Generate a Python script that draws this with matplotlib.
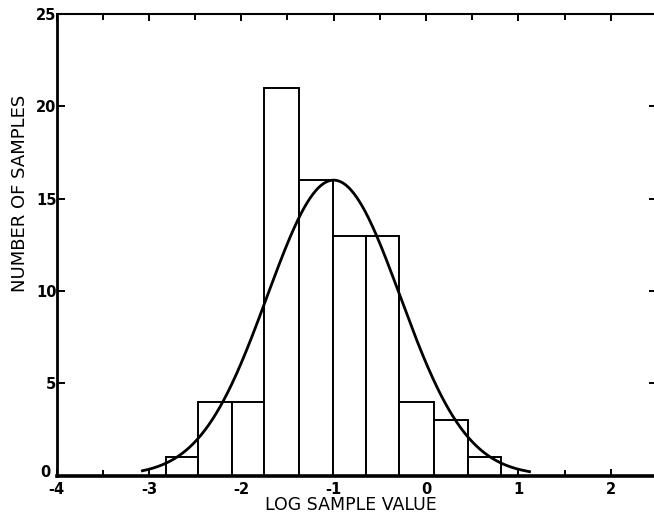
import numpy as np
import matplotlib
matplotlib.use("Agg")
import matplotlib.pyplot as plt
import matplotlib.transforms as mtransforms

# ---- data ----
bin_edges = [-2.82, -2.47, -2.10, -1.75, -1.37, -1.01, -0.65, -0.29, 0.09, 0.45, 0.81]
counts = [1, 4, 4, 21, 16, 13, 13, 4, 3, 1]

# fitted normal curve parameters
curve_mean = -1.0
curve_sd = 0.72
curve_peak = 16.0
curve_start = -3.07
curve_end = 1.12

x_major_ticks = [-4, -3, -2, -1, 0, 1, 2]
x_tick_labels = ["-4", "-3", "-2", "-1", "0", "1", "2"]
x_minor_ticks = [-3.5, -2.5, -1.5, -0.5, 0.5, 1.5]
y_ticks = [0, 5, 10, 15, 20, 25]
y_tick_labels = ["0", "5", "10", "15", "20", "25"]

W, H = 654, 513
fig = plt.figure(figsize=(W / 100, H / 100), dpi=100)
left_px, right_px, top_px, bottom_px = 56.5, 657, 14, 475.5
ax = fig.add_axes([left_px / W, 1 - bottom_px / H,
                   (right_px - left_px) / W, (bottom_px - top_px) / H])

ax.set_xlim(-4, 2.5)
ax.set_ylim(0, 25)

widths = np.diff(bin_edges)
ax.bar(bin_edges[:-1], counts, width=widths, align="edge",
       facecolor="white", edgecolor="black", linewidth=1.4, zorder=2)

xc = np.linspace(curve_start, curve_end, 400)
yc = curve_peak * np.exp(-0.5 * ((xc - curve_mean) / curve_sd) ** 2)
ax.plot(xc, yc, color="black", linewidth=2.0, zorder=3)

for side, lw in (("left", 2.0), ("bottom", 2.6), ("top", 1.5), ("right", 1.5)):
    ax.spines[side].set_linewidth(lw)
    ax.spines[side].set_color("black")

ax.set_xticks(x_major_ticks)
ax.set_xticklabels(x_tick_labels)
ax.set_xticks(x_minor_ticks, minor=True)
ax.set_yticks(y_ticks)
ax.set_yticklabels(y_tick_labels)

ax.tick_params(axis="x", which="both", direction="in", top=True, bottom=True,
               width=1.4, color="black")
ax.tick_params(axis="x", which="major", length=5, pad=5)
ax.tick_params(axis="x", which="minor", length=4)
ax.tick_params(axis="y", which="major", direction="in", left=True, right=True,
               length=6, width=1.4, pad=0, color="black")

for lab in ax.get_xticklabels() + ax.get_yticklabels():
    lab.set_fontweight("bold")
    lab.set_fontsize(10.5)
    lab.set_family("DejaVu Sans")

# nudge the bottom y label ("0") up and left so it clears the "-4" below it
zero_lab = ax.get_yticklabels()[0]
zero_lab.set_transform(zero_lab.get_transform() +
                       mtransforms.ScaledTranslation(-4 / 72, 3 / 72, fig.dpi_scale_trans))

fig.text(351 / W, 1 - 505 / H, "LOG SAMPLE VALUE", ha="center", va="center",
         fontsize=12.5, family="DejaVu Sans")
fig.text(20 / W, 1 - 193 / H, "NUMBER OF SAMPLES", ha="center", va="center",
         rotation=90, fontsize=13, family="DejaVu Sans")

fig.savefig("out.png", dpi=100, facecolor="white")
